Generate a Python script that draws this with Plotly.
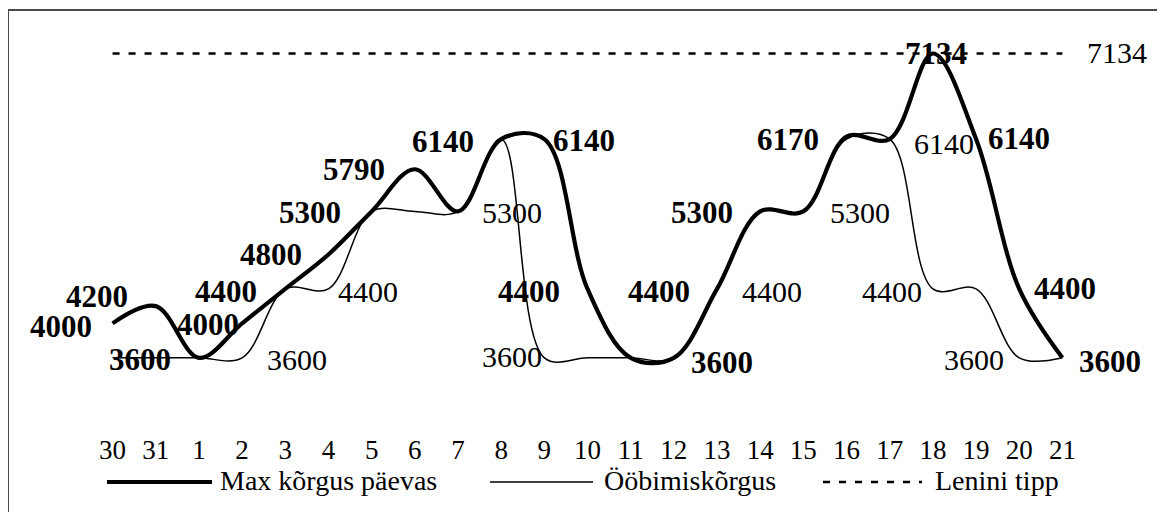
import plotly.graph_objects as go

# ---------------- data ----------------
days = ["30", "31", "1", "2", "3", "4", "5", "6", "7", "8", "9", "10", "11",
        "12", "13", "14", "15", "16", "17", "18", "19", "20", "21"]
max_height = [4000, 4200, 3600, 4000, 4400, 4800, 5300, 5790, 5300, 6140, 6140, 4400,
              3600, 3600, 4400, 5300, 5300, 6170, 6140, 7134, 6140, 4400, 3600]
sleep_height = [3600, 3600, 3600, 3600, 4400, 4400, 5300, 5300, 5300, 6140, 3600, 3600,
                3600, 3600, 4400, 5300, 5300, 6140, 6140, 4400, 4400, 3600, 3600]
lenin_peak = [7134, 7134, 7134, 7134, 7134, 7134, 7134, 7134, 7134, 7134, 7134, 7134,
              7134, 7134, 7134, 7134, 7134, 7134, 7134, 7134, 7134, 7134, 7134]
series_names = ["Max kõrgus päevas", "Ööbimiskõrgus", "Lenini tipp"]

# labelled points: (index, xshift, yshift)
max_labels = [(0, -52, -3), (1, -59, 10), (2, -59, -2), (3, -34, -1), (4, -59, -3),
              (5, -57, 0), (6, -62, -1), (7, -61, 0), (9, -58, -2), (10, 40, -1),
              (11, -59, -3), (13, 48, -5), (14, -58, -3), (15, -58, -1), (17, -59, -3),
              (19, 3, 0), (20, 43, 1), (21, 46, 0), (22, 48, -4)]
sleep_labels = [(3, 55, -2), (5, 40, -3), (8, 54, -1), (10, -32, 1), (14, 55, -3),
                (16, 57, -1), (18, 54, -4), (19, -41, -3), (21, -45, -2)]
peak_labels = [(22, 55, 1)]

# ---------------- geometry (page offset of 8px from the body margin) ----------------
OFF = 8
W, H = 1165 - OFF, 512 - OFF
ML, MR, MT, MB = 91 - OFF, 81, 22 - OFF, 81
PW, PH = W - ML - MR, H - MT - MB


def pxx(px):
    return (px - OFF - ML) / PW


def pxy(py):
    return (H - MB - (py - OFF)) / PH


FONT = "Liberation Serif"
xs = list(range(len(days)))

fig = go.Figure()
fig.add_trace(go.Scatter(x=xs, y=lenin_peak, mode="lines", name=series_names[2],
                         line=dict(color="black", width=2.5, dash="7px,9px")))
fig.add_trace(go.Scatter(x=xs, y=sleep_height, mode="lines", name=series_names[1],
                         line=dict(color="black", width=1.5, shape="spline", smoothing=1)))
fig.add_trace(go.Scatter(x=xs, y=max_height, mode="lines", name=series_names[0],
                         line=dict(color="black", width=4.2, shape="spline", smoothing=1)))

annotations = []
for i, dx, dy in max_labels:
    annotations.append(dict(x=xs[i], y=max_height[i], text=f"<b>{max_height[i]}</b>",
                            xshift=dx, yshift=dy, showarrow=False,
                            font=dict(family=FONT, size=31, color="black")))
for i, dx, dy in sleep_labels:
    annotations.append(dict(x=xs[i], y=sleep_height[i], text=str(sleep_height[i]),
                            xshift=dx, yshift=dy, showarrow=False,
                            font=dict(family=FONT, size=30, color="black")))
for i, dx, dy in peak_labels:
    annotations.append(dict(x=xs[i], y=lenin_peak[i], text=str(lenin_peak[i]),
                            xshift=dx, yshift=dy, showarrow=False,
                            font=dict(family=FONT, size=30, color="black")))

# custom legend (page pixel positions)
legend_items = [
    (107, 212, 218, dict(color="black", width=4.2)),
    (490, 593, 602, dict(color="black", width=1.5)),
    (823, 922, 933, dict(color="black", width=2.5, dash="7px,9px")),
]
shapes = []
LEG_Y = 482
for (x0, x1, tx, ln), name in zip(legend_items, series_names):
    shapes.append(dict(type="line", xref="paper", yref="paper",
                       x0=pxx(x0), x1=pxx(x1), y0=pxy(LEG_Y), y1=pxy(LEG_Y), line=ln))
    annotations.append(dict(xref="paper", yref="paper", x=pxx(tx), y=pxy(480),
                            xanchor="left", yanchor="middle", text=name, showarrow=False,
                            font=dict(family=FONT, size=28, color="black")))

# chart border
shapes.append(dict(type="rect", xref="paper", yref="paper",
                   x0=pxx(8), x1=pxx(1200), y0=pxy(540), y1=pxy(10),
                   line=dict(color="#4a4a4a", width=2), fillcolor="rgba(0,0,0,0)",
                   layer="below"))

fig.update_layout(
    width=W, height=H,
    margin=dict(l=ML, r=MR, t=MT, b=MB),
    paper_bgcolor="white", plot_bgcolor="white",
    showlegend=False,
    annotations=annotations,
    shapes=shapes,
    xaxis=dict(range=[-0.5, 22.5], tickmode="array", tickvals=xs, ticktext=days,
               showgrid=False, zeroline=False, showline=False, ticks="",
               tickfont=dict(family=FONT, size=27, color="black"),
               automargin=False, fixedrange=True),
    yaxis=dict(range=[2750, 7500], visible=False, automargin=False, fixedrange=True),
)

fig.write_html("out.html", config={"displayModeBar": False})
